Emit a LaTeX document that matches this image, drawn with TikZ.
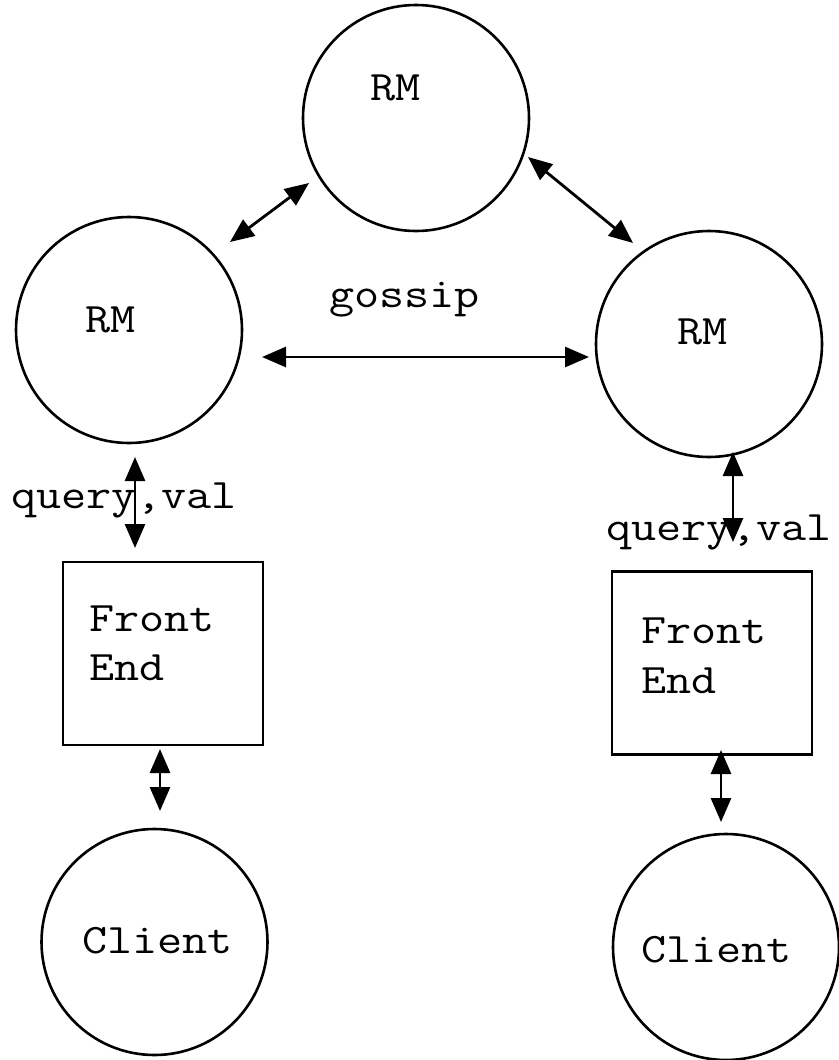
\documentclass[tikz,border=0pt]{standalone}
\usepackage{fontspec}
\usetikzlibrary{arrows.meta}
\newcommand\wtxt[1]{\scalebox{1.16}[1]{#1}}
\begin{document}
\begin{tikzpicture}[x=1pt,y=-1pt,
  site/.style={draw, circle, line width=2.6pt, inner sep=0pt, minimum size=226pt},
  febox/.style={draw, line width=2.6pt, inner sep=0pt, minimum width=200pt, minimum height=183pt},
  lbl/.style={font=\ttfamily\fontsize{42}{49}\selectfont, inner sep=0pt, anchor=base west, align=left},
  link/.style={line width=2.8pt, {Triangle[length=24pt,width=20pt]}-{Triangle[length=24pt,width=20pt]}}]
\useasboundingbox (0,0) rectangle (838,1060);
% shapes
\node[site] (rmtop) at (416,118) {};
\node[site] (rmleft) at (129,330) {};
\node[site] (rmright) at (709,344) {};
\node[febox] (feleft) at (163,653.5) {};
\node[febox] (feright) at (712,663) {};
\node[site] (clleft) at (154.5,942) {};
\node[site] (clright) at (726,947) {};
% texts
\node[lbl] (trmtop) at (370,100) {\wtxt{RM}};
\node[lbl] (trmleft) at (85,332) {\wtxt{RM}};
\node[lbl] (trmright) at (677,344) {\wtxt{RM}};
\node[lbl] (tgossip) at (329,307) {\wtxt{gossip}};
\node[lbl] (tqleft) at (11,508) {\wtxt{query,val}};
\node[lbl] (tqright) at (606,540) {\wtxt{query,val}};
\node[lbl] (tfeleft) at (89,680) {\wtxt{Front}\\\wtxt{End}};
\node[lbl, font=\ttfamily\fontsize{42}{50}\selectfont] (tferight) at (641,693) {\wtxt{Front}\\\wtxt{End}};
\node[lbl] (tclleft) at (82,953) {\wtxt{Client}};
\node[lbl] (tclright) at (641,962) {\wtxt{Client}};
% connector ends
\coordinate (g1) at (262,357); \coordinate (g2) at (589,357);
\coordinate (tl1) at (230,242); \coordinate (tl2) at (309,183);
\coordinate (tr1) at (528,157); \coordinate (tr2) at (633,243);
\coordinate (ql1) at (135,457); \coordinate (ql2) at (135,548);
\coordinate (qr1) at (733,452); \coordinate (qr2) at (733,542);
\coordinate (cl1) at (160,749); \coordinate (cl2) at (160,811);
\coordinate (cr1) at (721,750); \coordinate (cr2) at (721,822);
% connectors
\draw[link] (g1) -- (g2);
\draw[link] (tl1) -- (tl2);
\draw[link] (tr1) -- (tr2);
\draw[link] (ql1) -- (ql2);
\draw[link] (qr1) -- (qr2);
\draw[link] (cl1) -- (cl2);
\draw[link] (cr1) -- (cr2);
\end{tikzpicture}
\end{document}
